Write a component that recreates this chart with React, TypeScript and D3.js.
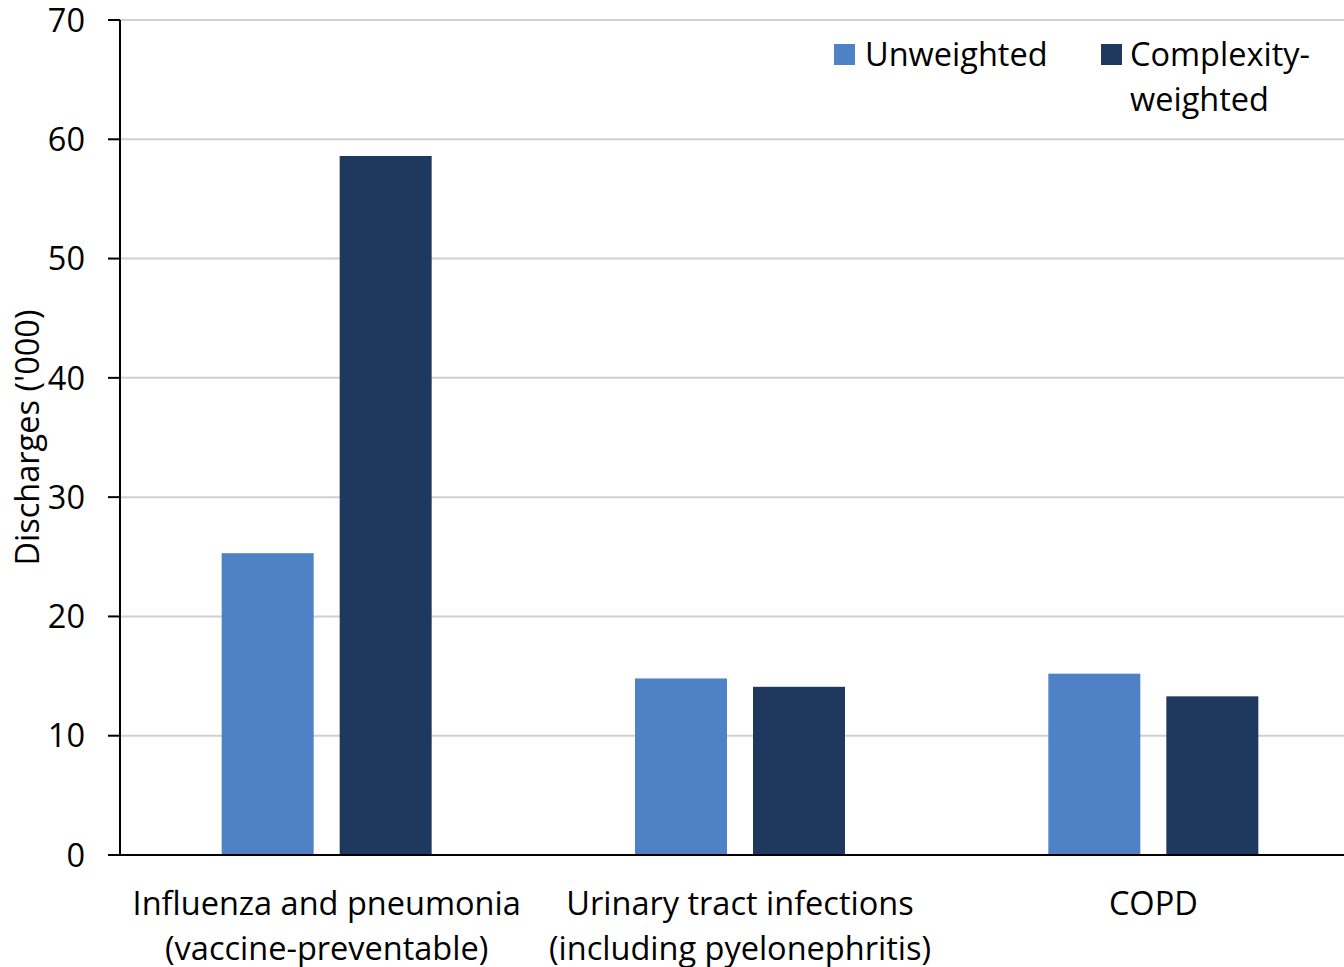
import React from "react";
import * as d3 from "d3";

const categories: string[][] = [
  ["Influenza and pneumonia", "(vaccine-preventable)"],
  ["Urinary tract infections", "(including pyelonephritis)"],
  ["COPD"],
];
const seriesNames = ["Unweighted", "Complexity-weighted"];
const unweighted = [25.3, 14.8, 15.2];
const complexityWeighted = [58.6, 14.1, 13.3];
const yTicks = [0, 10, 20, 30, 40, 50, 60, 70];
const colors = ["#4F81C7", "#1F385D"];

const W = 1344;
const H = 967;
const FONT = "'Open Sans', sans-serif";
const FS = 32.5;

export default function App() {
  const left = 120;
  const right = 1344;
  const bandEnd = 1360; // the category bands run slightly past the visible edge
  const top = 20;
  const bottom = 855;

  const x = d3
    .scaleBand<number>()
    .domain(categories.map((_, i) => i))
    .range([left, bandEnd])
    .paddingInner(0)
    .paddingOuter(0);
  const y = d3.scaleLinear().domain([0, 70]).range([bottom, top]);

  const barW = 92;
  const gap = 26;
  const series = [unweighted, complexityWeighted];

  return (
    <div style={{ position: "absolute", left: 0, top: 0, width: W, height: H, overflow: "hidden" }}>
      <svg width={W} height={H} style={{ display: "block", fontFamily: FONT }}>
        <rect width={W} height={H} fill="#fff" />
        {/* horizontal gridlines */}
        {yTicks.slice(1).map((t) => (
          <line key={t} x1={left} x2={right} y1={y(t)} y2={y(t)} stroke="#d0d0d0" strokeWidth={2} />
        ))}
        {/* bars */}
        {categories.map((_, i) => {
          const cx = (x(i) as number) + x.bandwidth() / 2;
          const startX = cx - barW - gap / 2;
          return series.map((vals, s) => (
            <rect
              key={`${i}-${s}`}
              x={startX + s * (barW + gap)}
              y={y(vals[i])}
              width={barW}
              height={y(0) - y(vals[i])}
              fill={colors[s]}
            />
          ));
        })}
        {/* y axis */}
        <line x1={left} x2={left} y1={top} y2={bottom} stroke="#000" strokeWidth={2} />
        {yTicks.map((t) => (
          <g key={t}>
            <line x1={left - 12} x2={left} y1={y(t)} y2={y(t)} stroke="#000" strokeWidth={2} />
            <text x={85} y={y(t)} dy="0.36em" textAnchor="end" fontSize={FS} fill="#000">
              {t}
            </text>
          </g>
        ))}
        {/* x axis */}
        <line x1={left - 12} x2={right} y1={bottom} y2={bottom} stroke="#000" strokeWidth={2} />
        {categories.map((lines, i) => {
          const cx = (x(i) as number) + x.bandwidth() / 2;
          return (
            <text key={i} textAnchor="middle" fontSize={FS} fill="#000">
              {lines.map((l, j) => (
                <tspan key={j} x={cx} y={915 + j * 45}>
                  {l}
                </tspan>
              ))}
            </text>
          );
        })}
        {/* y axis title */}
        <text
          transform={`translate(39, ${(top + bottom) / 2}) rotate(-90)`}
          textAnchor="middle"
          fontSize={FS}
          fill="#000"
        >
          Discharges ('000)
        </text>
        {/* legend */}
        <rect x={834} y={44} width={21} height={21} fill={colors[0]} />
        <text x={865} y={66} fontSize={FS} fill="#000">
          {seriesNames[0]}
        </text>
        <rect x={1101} y={44} width={21} height={21} fill={colors[1]} />
        <text fontSize={FS} fill="#000">
          <tspan x={1130} y={66}>Complexity-</tspan>
          <tspan x={1130} y={111}>weighted</tspan>
        </text>
      </svg>
    </div>
  );
}
